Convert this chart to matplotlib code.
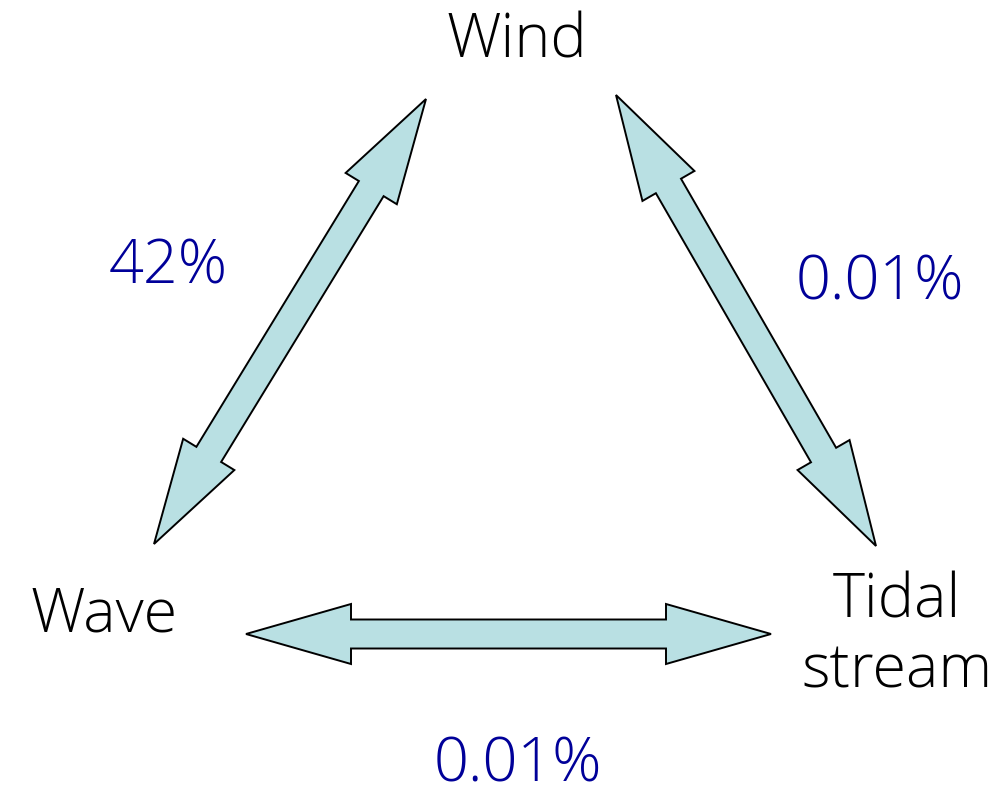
import numpy as np
import matplotlib
matplotlib.use("Agg")
import matplotlib.pyplot as plt
from matplotlib.patches import Polygon

# Knoten (Beschriftungen) und Grundlinien in Pixeln
node_names = ["Wind", "Wave", "Tidal\nstream"]
node_x = [517, 104, 897]
node_y = [57, 632, 618]

# Pfeile: Spitzen (Start, Ende)
arrow_x0 = [426, 616, 246]
arrow_y0 = [99, 95, 634]
arrow_x1 = [154, 876, 771]
arrow_y1 = [544, 546, 634]

# Korrelationswerte
corr_labels = ["42%", "0.01%", "0.01%"]
corr_x = [168, 880, 518]
corr_y = [284, 300, 781]

fill_col = "#B9E0E3"
blue = "#000099"
fsize = 44
line_step = 70


def double_arrow(x0, y0, x1, y1, w=29, hw=60, hl=105):
    p0 = np.array([x0, y0], float)
    p1 = np.array([x1, y1], float)
    u = (p1 - p0) / np.linalg.norm(p1 - p0)
    n = np.array([-u[1], u[0]])
    b0 = p0 + hl * u
    b1 = p1 - hl * u
    pts = [p0,
           b0 + n * hw / 2, b0 + n * w / 2,
           b1 + n * w / 2, b1 + n * hw / 2,
           p1,
           b1 - n * hw / 2, b1 - n * w / 2,
           b0 - n * w / 2, b0 - n * hw / 2]
    return Polygon(pts, closed=True, facecolor=fill_col, edgecolor="black",
                   linewidth=1.4, joinstyle="miter")


fig = plt.figure(figsize=(10.03, 7.87), dpi=100)
ax = fig.add_axes([0, 0, 1, 1])
ax.set_xlim(0, 1003)
ax.set_ylim(787, 0)
ax.axis("off")

for i in range(len(arrow_x0)):
    ax.add_patch(double_arrow(arrow_x0[i], arrow_y0[i], arrow_x1[i], arrow_y1[i]))

for name, x, y in zip(node_names, node_x, node_y):
    for k, line in enumerate(name.split("\n")):
        ax.text(x, y + k * line_step, line, fontsize=fsize, family="Open Sans",
                fontweight="light", color="black", ha="center", va="baseline")

for lab, x, y in zip(corr_labels, corr_x, corr_y):
    ax.text(x, y, lab, fontsize=fsize, family="Open Sans", fontweight="light",
            color=blue, ha="center", va="baseline")

fig.savefig("out.png", dpi=100)
